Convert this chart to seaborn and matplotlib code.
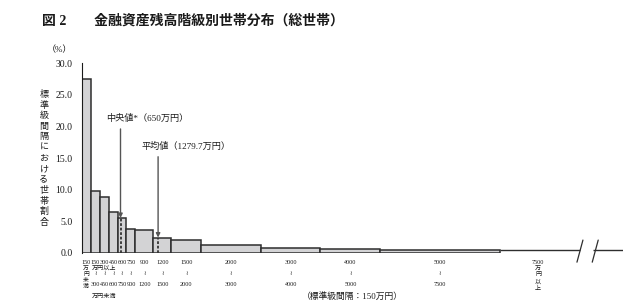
import numpy as np
import matplotlib
matplotlib.use("Agg")
import matplotlib.pyplot as plt
import matplotlib.transforms as mtransforms
import seaborn as sns

# 金融資産残高階級（万円）の境界と標準級間隔（150万円）あたりの世帯割合（%）
bin_edges = [0, 150, 300, 450, 600, 750, 900, 1200, 1500, 2000, 3000, 4000, 5000, 7500]
upper_labels = ["150", "150", "300", "450", "600", "750", "900", "1200", "1500",
                "2000", "3000", "4000", "5000", "7500"]
lower_labels = ["", "300", "450", "600", "750", "900", "1200", "1500", "2000",
                "3000", "4000", "5000", "7500", ""]
shares = [27.5, 9.8, 8.8, 6.5, 5.5, 3.8, 3.6, 2.4, 2.0, 1.2, 0.8, 0.6, 0.4]
share_top = 0.4  # 7500万円以上
median = 650
mean = 1279.7
y_ticks = [0, 5, 10, 15, 20, 25, 30]

W, H = 627, 306
FONT = ["Liberation Serif", "Noto Sans CJK JP", "DejaVu Sans"]
INK = "#1a1a1a"

sns.set_theme(style="white")
plt.rcParams["font.family"] = FONT

fig = plt.figure(figsize=(W / 100, H / 100), dpi=100)
# plot area in pixels: x 81.7 -> 623, y 63.3 (30%) -> 252.7 (0%)
ax = fig.add_axes([81.7 / W, 1 - 252.7 / H, (623 - 81.7) / W, (252.7 - 63.3) / H])

mids = [(a + b) / 2 for a, b in zip(bin_edges[:-1], bin_edges[1:])]
sns.histplot(x=mids, weights=shares, bins=bin_edges, stat="count",
             color="#d3d3d5", edgecolor="#2e2e2e", linewidth=1.1, alpha=1, ax=ax)


# 5000万円以上は圧縮して描く（棒を描いた後でスケールを変更）
def fwd(x):
    x = np.asarray(x, dtype=float)
    return np.where(x <= 5000, x, 5000 + (x - 5000) * 0.8)


def inv(x):
    x = np.asarray(x, dtype=float)
    return np.where(x <= 5000, x, 5000 + (x - 5000) / 0.8)


ax.set_xscale("function", functions=(fwd, inv))
x_break = 9120
x_end = 10084

# 7500万円以上（線のみ、軸の中断あり）
ax.hlines(share_top, bin_edges[-1], x_break + 60, color="#2e2e2e", lw=1.0)
ax.hlines(share_top, x_break + 330, x_end, color="#2e2e2e", lw=1.0)
for x0 in (x_break, x_break + 320):
    ax.plot([x0, x0 + 125], [-1.5, 2.0], color="#2e2e2e", lw=0.9, clip_on=False)

ax.set_xlim(0, x_end)
ax.set_ylim(0, 30)
ax.set_xticks([])
ax.set_yticks(y_ticks)
ax.set_yticklabels([f"{v:.1f}" for v in y_ticks], fontsize=7, color=INK)
ax.tick_params(axis="y", direction="inout", length=3, width=0.8, color=INK, pad=5)
ax.set_xlabel("")
ax.set_ylabel("")
for s in ["top", "right", "bottom"]:
    ax.spines[s].set_visible(False)
ax.spines["left"].set_color(INK)
ax.spines["left"].set_linewidth(0.8)

# 中央値・平均値
med_h = shares[bin_edges.index(600)]
mean_h = shares[bin_edges.index(1200)]
for val, h, y0, label, tx, ty in [
    (median, med_h, 19.6, f"中央値*（{median}万円）", 410, 21.2),
    (mean, mean_h, 15.2, f"平均値（{mean}万円）", 1010, 16.8),
]:
    ax.annotate("", xy=(val, h), xytext=(val, y0),
                arrowprops=dict(arrowstyle="-|>", color="#555555", lw=1.0,
                                mutation_scale=6, shrinkA=0, shrinkB=0))
    ax.vlines(val, 0, h, color="#333333", lw=1.3, linestyles=(0, (1.5, 1.0)))
    ax.text(tx, ty, label, fontsize=6.6, va="center", ha="left", color=INK)

# 横軸の階級ラベル
tr = mtransforms.blended_transform_factory(ax.transData, fig.transFigure)


def fy(py):
    return 1 - py / H


centers = mids + [(bin_edges[-1] + x_break) / 2]
for i, c in enumerate(centers):
    ax.text(c, fy(262), upper_labels[i], transform=tr, fontsize=4.4,
            ha="center", va="center", color=INK)
    if lower_labels[i]:
        ax.text(c, fy(273.5), "≀", transform=tr, fontsize=4.5,
                ha="center", va="center", color=INK, family="DejaVu Sans")
        ax.text(c, fy(284), lower_labels[i], transform=tr, fontsize=4.4,
                ha="center", va="center", color=INK)

for ch, py in zip("万円未満", [268.5, 274.5, 280.5, 286.5]):
    ax.text(centers[0], fy(py), ch, transform=tr, fontsize=4.2,
            ha="center", va="center", color=INK)
for ch, py in zip("万円以上", [268, 275, 282, 289]):
    ax.text(centers[-1], fy(py), ch, transform=tr, fontsize=4.4,
            ha="center", va="center", color=INK)
ax.text(172, fy(268.5), "万円以上", transform=tr, fontsize=4.4,
        ha="left", va="center", color=INK)
ax.text(172, fy(296), "万円未満", transform=tr, fontsize=4.4,
        ha="left", va="center", color=INK)

fig.text(352 / W, fy(297), "（標準級間隔：150万円）", fontsize=6.3,
         ha="center", va="center", color=INK)

# 縦軸ラベル
fig.text(72 / W, fy(50), "（%）", fontsize=6.5, ha="right", va="center", color=INK)
ylab = "標準級間隔における世帯割合"
for k, ch in enumerate(ylab):
    fig.text(44 / W, fy(95 + k * 10.6), ch, fontsize=6.5,
             ha="center", va="center", color=INK)

fig.text(42 / W, fy(21), "図 2　　金融資産残高階級別世帯分布（総世帯）",
         fontsize=10, fontweight="bold", ha="left", va="center", color=INK)

fig.savefig("out.png", dpi=100, facecolor="white")
